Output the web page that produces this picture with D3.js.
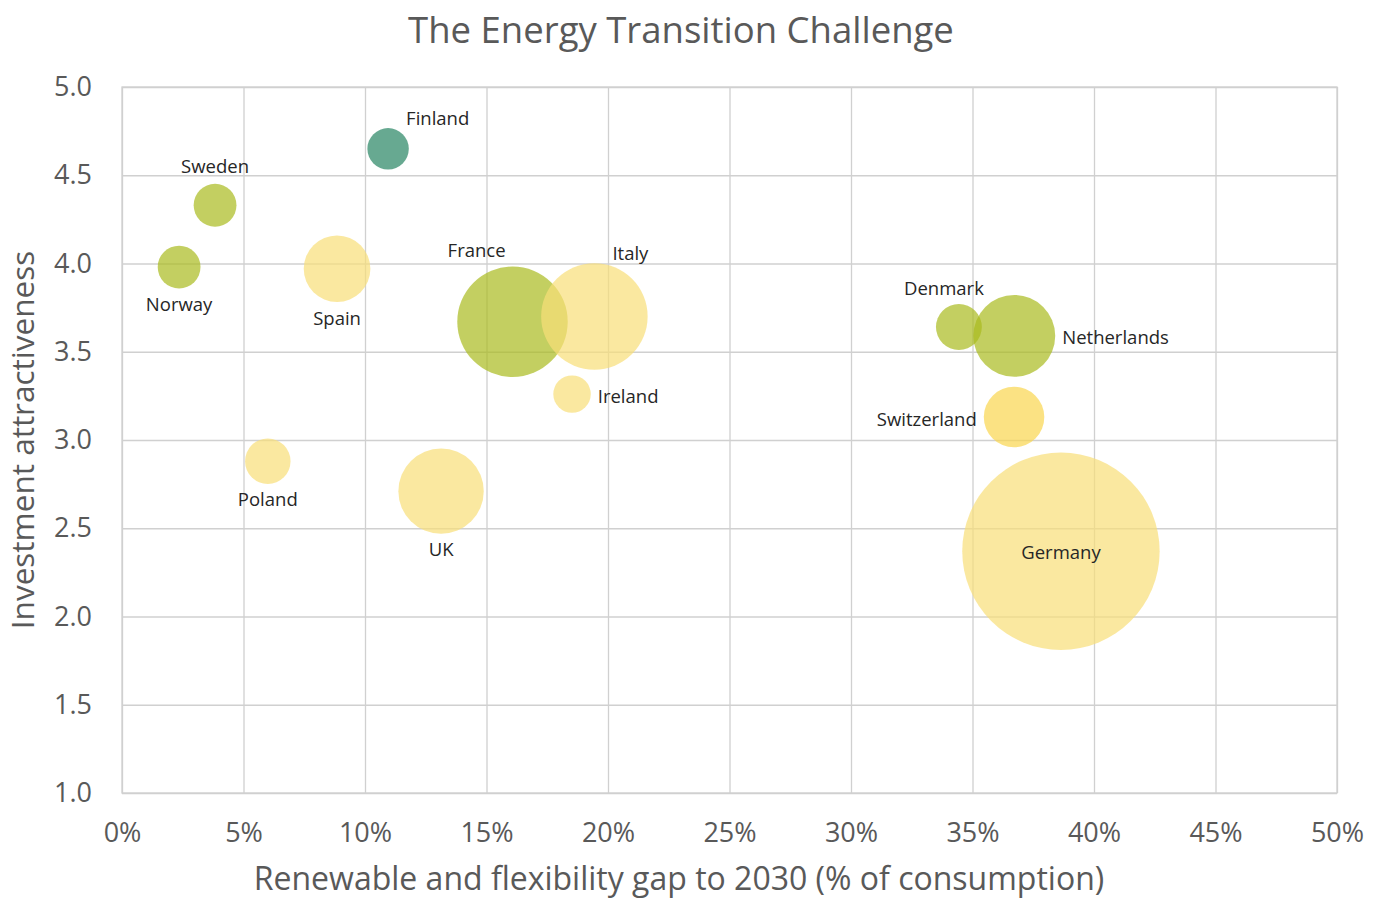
<!DOCTYPE html>
<html>
<head>
<meta charset="utf-8">
<script src="https://cdn.jsdelivr.net/npm/d3@7"></script>
<style>
  body { margin: 0; background: #fff; }
  svg text { font-family: "Open Sans", sans-serif; }
  .grid line { stroke: #d0d0d0; stroke-width: 1.3; }
  .grid path { display: none; }
  .tick-label text { fill: #595959; font-size: 27px; }
</style>
</head>
<body>
<svg id="chart" width="1379" height="901"></svg>
<script>
// data
var countries = ["Finland", "Sweden", "Norway", "Spain", "France", "Italy", "Ireland",
                 "Denmark", "Netherlands", "Switzerland", "Germany", "Poland", "UK"];
var gap = [10.95, 3.83, 2.35, 8.85, 16.07, 19.44, 18.52, 34.44, 36.72, 36.71, 38.64, 6.0, 13.13];
var attractiveness = [4.65, 4.33, 3.98, 3.97, 3.67, 3.70, 3.26, 3.64, 3.59, 3.13, 2.37, 2.88, 2.71];
var size = [4.4, 4.7, 4.7, 11.4, 31.3, 29.1, 3.6, 5.4, 17.2, 9.4, 100, 5.3, 18.7];
var group = ["teal", "green", "green", "yellow", "green", "yellow", "yellow",
             "green", "green", "gold", "yellow", "yellow", "yellow"];
var xTicks = [0, 5, 10, 15, 20, 25, 30, 35, 40, 45, 50];
var yTicks = [1.0, 1.5, 2.0, 2.5, 3.0, 3.5, 4.0, 4.5, 5.0];

// which side of its bubble each label sits on
var labelSide = ["aboveRight", "above", "below", "below", "aboveLeft", "aboveRight", "right",
                 "aboveLeft", "right", "left", "center", "below", "below"];

var colors = { teal: "#268562", green: "#aabb1e", yellow: "#f8de77", gold: "#f9d54e" };

var svg = d3.select("#chart"),
    m = {t: 87, r: 42, b: 108, l: 122},
    W = +svg.attr("width"), H = +svg.attr("height"),
    w = W - m.l - m.r, h = H - m.t - m.b;

var x = d3.scaleLinear().domain([0, 50]).range([0, w]);
var y = d3.scaleLinear().domain([1, 5]).range([h, 0]);
var r = d3.scaleSqrt().domain([0, 100]).range([0, 98.7]);

var g = svg.append("g").attr("transform", "translate(" + m.l + "," + m.t + ")");

// grid
g.append("g").attr("class", "grid")
    .attr("transform", "translate(0," + h + ")")
    .call(d3.axisBottom(x).tickValues(xTicks).tickSize(-h).tickFormat(""));
g.append("g").attr("class", "grid")
    .call(d3.axisLeft(y).tickValues(yTicks).tickSize(-w).tickFormat(""));
g.append("rect").attr("width", w).attr("height", h)
    .attr("fill", "none").attr("stroke", "#d0d0d0").attr("stroke-width", 1.3);

// tick labels
var xa = g.append("g").attr("class", "tick-label")
    .attr("transform", "translate(0," + h + ")")
    .call(d3.axisBottom(x).tickValues(xTicks).tickSize(0).tickPadding(30)
        .tickFormat(function(d){ return d + "%"; }));
var ya = g.append("g").attr("class", "tick-label")
    .call(d3.axisLeft(y).tickValues(yTicks).tickSize(0).tickPadding(30)
        .tickFormat(d3.format(".1f")));
xa.select(".domain").remove();
ya.select(".domain").remove();

var data = countries.map(function(c, i){
    return {name: c, gx: gap[i], gy: attractiveness[i], s: size[i], grp: group[i], side: labelSide[i]};
});
data.sort(function(a, b){ return b.s - a.s; });

g.selectAll("circle.bubble").data(data).enter().append("circle")
    .attr("class", "bubble")
    .attr("cx", function(d){ return x(d.gx); })
    .attr("cy", function(d){ return y(d.gy); })
    .attr("r", function(d){ return r(d.s); })
    .attr("fill", function(d){ return colors[d.grp]; })
    .attr("fill-opacity", 0.7);

g.selectAll("text.lbl").data(data).enter().append("text")
    .attr("class", "lbl")
    .attr("font-size", 18.5)
    .attr("fill", "#262626")
    .attr("dominant-baseline", "central")
    .each(function(d){
        var cx = x(d.gx), cy = y(d.gy), rr = r(d.s), t = d3.select(this), px = cx, py = cy, anchor = "middle";
        if (d.side === "above") { py = cy - rr - 18; }
        else if (d.side === "below") { py = cy + rr + 15; }
        else if (d.side === "right") { px = cx + rr + 7; anchor = "start"; py = cy + 1; }
        else if (d.side === "left") { px = cx - rr - 7; anchor = "end"; py = cy + 1; }
        else if (d.side === "aboveRight") { px = cx + 18; anchor = "start"; py = cy - rr - 11; }
        else if (d.side === "aboveLeft") { px = cx - rr * 0.65; py = cy - rr - 17; }
        t.attr("x", px).attr("y", py).attr("text-anchor", anchor).text(d.name);
    });

// titles
svg.append("text").attr("x", 681).attr("y", 43)
    .attr("text-anchor", "middle")
    .attr("font-size", 36.5).attr("fill", "#595959")
    .text("The Energy Transition Challenge");
svg.append("text").attr("x", 679).attr("y", 890)
    .attr("text-anchor", "middle")
    .attr("font-size", 32).attr("fill", "#595959")
    .text("Renewable and flexibility gap to 2030 (% of consumption)");
svg.append("text")
    .attr("transform", "translate(34," + (m.t + h / 2) + ") rotate(-90)")
    .attr("text-anchor", "middle")
    .attr("font-size", 31.5).attr("fill", "#595959")
    .text("Investment attractiveness");
</script>
</body>
</html>
